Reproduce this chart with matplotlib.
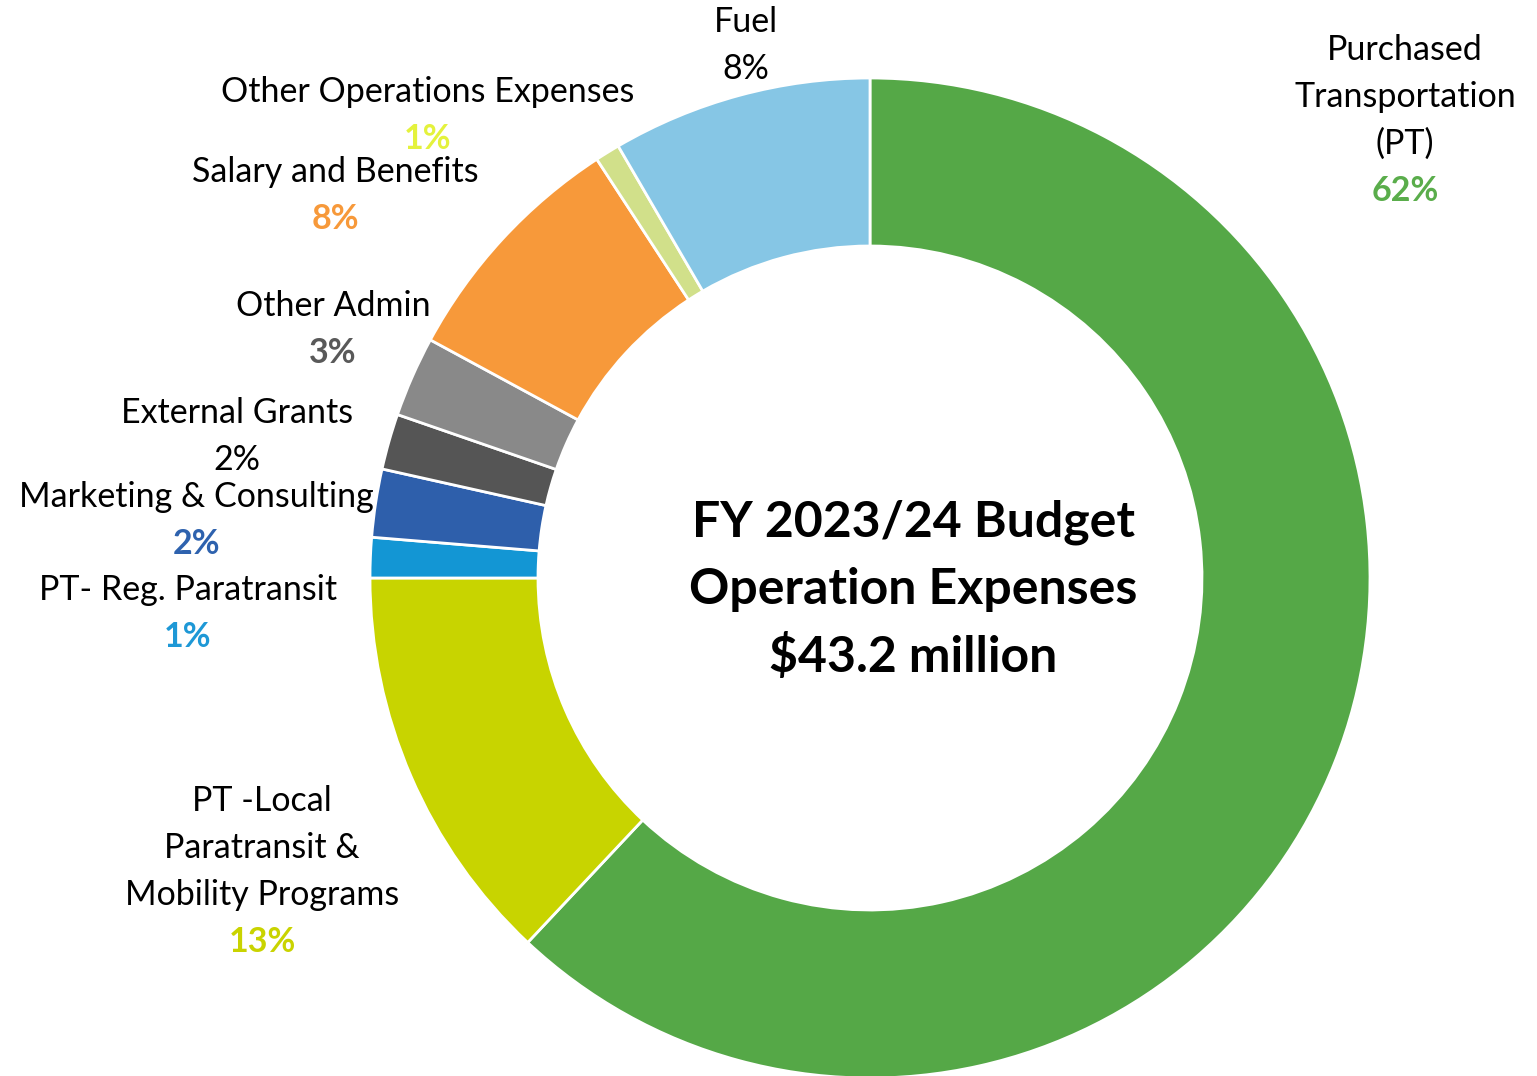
import matplotlib.pyplot as plt

# FY 2023/24 operating expense shares (percent of $43.2M)
categories = [
    "Purchased Transportation (PT)",
    "PT -Local Paratransit & Mobility Programs",
    "PT- Reg. Paratransit",
    "Marketing & Consulting",
    "External Grants",
    "Other Admin",
    "Salary and Benefits",
    "Other Operations Expenses",
    "Fuel",
]
shares = [62.0, 13.0, 1.3, 2.2, 1.8, 2.6, 7.9, 0.8, 8.4]
slice_colors = ["#55a847", "#c8d400", "#1396d4", "#2e5fab", "#555555",
                "#898989", "#f7993a", "#d1e08a", "#86c6e5"]

# label layout: text lines, first line y (px from top), centre x, pct colour, bold pct
label_lines = [
    ["Purchased", "Transportation", "(PT)"],
    ["PT -Local", "Paratransit &", "Mobility Programs"],
    ["PT- Reg. Paratransit"],
    ["Marketing & Consulting"],
    ["External Grants"],
    ["Other Admin"],
    ["Salary and Benefits"],
    ["Other Operations Expenses"],
    ["Fuel"],
]
label_x = [1405, 262, 188, 196, 237, 333, 335, 428, 746]
label_y = [50, 801, 590, 497, 413, 306, 172, 92, 22]
pct_colors = ["#5aad4b", "#c9d300", "#1e98d6", "#2e62ae", "black",
              "#595959", "#f7993a", "#e4f23c", "black"]
pct_bold = [True, True, True, True, False, True, True, True, False]

W, H = 1537, 1076
plt.rcParams['font.family'] = ['Lato', 'DejaVu Sans']

fig = plt.figure(figsize=(W / 100, H / 100), dpi=100)
ax = fig.add_axes([0, 0, 1, 1])

ax.pie(shares, colors=slice_colors, startangle=90, counterclock=False,
       center=(870, H - 578), radius=500,
       wedgeprops=dict(width=168, edgecolor="white", linewidth=2))
ax.set_xlim(0, W)
ax.set_ylim(0, H)
ax.set_aspect("equal")
ax.axis("off")

step = 47
for lines, x, y0, pc, pb, val in zip(label_lines, label_x, label_y,
                                    pct_colors, pct_bold, shares):
    for i, s in enumerate(lines):
        ax.text(x, H - (y0 + i * step), s, ha="center", va="center",
                fontsize=24.5, color="black")
    ax.text(x, H - (y0 + len(lines) * step), f"{round(val)}%",
            ha="center", va="center", fontsize=24.5, color=pc,
            fontweight="bold" if pb else "normal")

center_lines = ["FY 2023/24 Budget", "Operation Expenses", "$43.2 million"]
for i, s in enumerate(center_lines):
    ax.text(913, H - (522 + i * 67), s, ha="center", va="center",
            fontsize=36, fontweight="bold", color="black")

fig.savefig("out.png", dpi=100)
